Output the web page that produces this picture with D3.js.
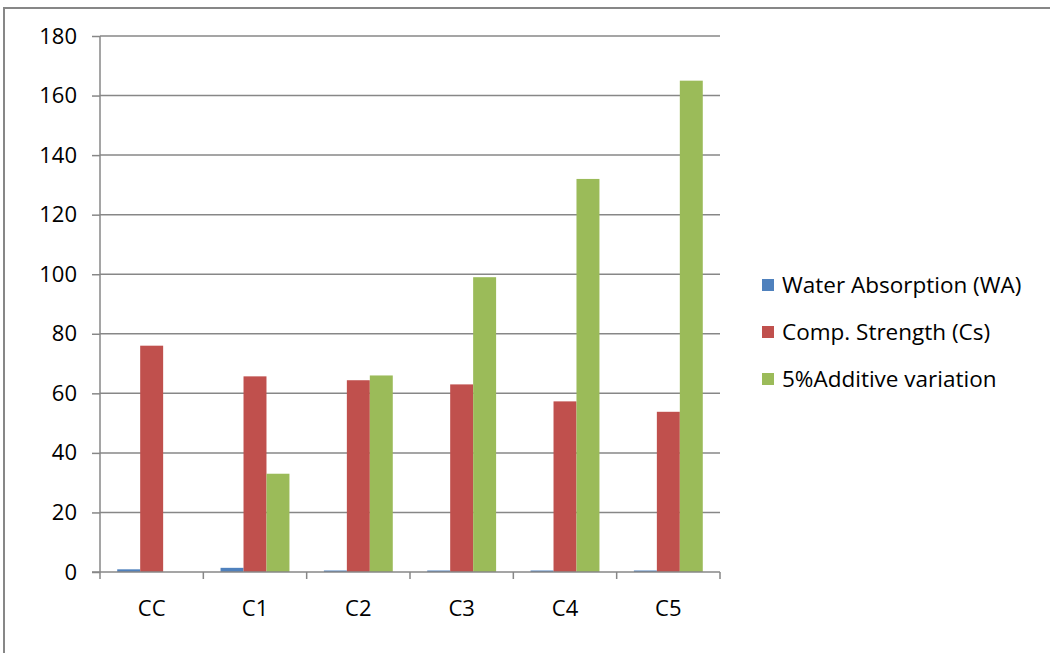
<!DOCTYPE html>
<html>
<head>
<meta charset="utf-8">
<script src="https://cdnjs.cloudflare.com/ajax/libs/d3/7.8.5/d3.min.js"></script>
<style>
  body { margin: 0; background: #fff; }
  svg { display: block; font-family: "Open Sans", sans-serif; }
</style>
</head>
<body>
<svg id="chart" width="1050" height="653"></svg>
<script>
// values
var categories = ["CC", "C1", "C2", "C3", "C4", "C5"];
var seriesNames = ["Water Absorption (WA)", "Comp. Strength (Cs)", "5%Additive variation"];
var waterAbsorption = [0.9, 1.4, 0.5, 0.5, 0.5, 0.5];
var compStrength = [76, 65.7, 64.4, 63, 57.3, 53.8];
var additiveVariation = [0, 33, 66, 99, 132, 165];
var yTicks = [0, 20, 40, 60, 80, 100, 120, 140, 160, 180];
var colors = ["#4F81BD", "#C0504D", "#9BBB59"];

var series = [waterAbsorption, compStrength, additiveVariation];

var svg = d3.select("#chart"),
    plotLeft = 100, plotRight = 720, plotTop = 36, plotBottom = 572,
    fontSize = "22px", legendFont = "22.5px", axisGrey = "#878787";

// outer frame (only top and left edges show in the picture)
svg.append("path")
    .attr("d", "M4,653 V8 H1050")
    .attr("fill", "none")
    .attr("stroke", axisGrey)
    .attr("stroke-width", 2);

var x = d3.scaleBand().domain(categories).range([plotLeft, plotRight]);
var y = d3.scaleLinear().domain([0, 180]).range([plotBottom, plotTop]);

// gridlines
svg.append("g")
    .selectAll("line")
    .data(yTicks.filter(function (d) { return d > 0; }))
    .enter().append("line")
    .attr("x1", plotLeft).attr("x2", plotRight)
    .attr("y1", function (d) { return y(d); })
    .attr("y2", function (d) { return y(d); })
    .attr("stroke", axisGrey)
    .attr("stroke-width", 1.5);

// bars: gap width 150% like the spreadsheet default
var barW = x.bandwidth() / 4.5;
series.forEach(function (vals, si) {
    svg.append("g")
        .selectAll("rect")
        .data(vals)
        .enter().append("rect")
        .attr("x", function (d, i) { return x(categories[i]) + barW * 0.75 + si * barW; })
        .attr("width", barW)
        .attr("y", function (d) { return y(d); })
        .attr("height", function (d) { return plotBottom - y(d); })
        .attr("fill", colors[si]);
});

// y axis
var yAxis = svg.append("g")
    .attr("transform", "translate(" + plotLeft + ",0)")
    .call(d3.axisLeft(y).tickValues(yTicks).tickSize(8).tickPadding(15));
yAxis.select(".domain").attr("stroke", axisGrey).attr("stroke-width", 1.5)
    .attr("d", "M0," + plotTop + "V" + plotBottom);
yAxis.selectAll(".tick line").attr("stroke", axisGrey).attr("stroke-width", 1.5);
yAxis.selectAll(".tick text").attr("font-size", fontSize).attr("fill", "#000")
    .attr("font-family", "'Open Sans', sans-serif");

// x axis with ticks between categories
var xAxis = svg.append("g")
    .attr("transform", "translate(0," + plotBottom + ")")
    .call(d3.axisBottom(x).tickSize(0).tickPadding(28));
xAxis.select(".domain").attr("stroke", axisGrey).attr("stroke-width", 1.5)
    .attr("d", "M" + (plotLeft - 8) + ",0H" + plotRight);
xAxis.selectAll(".tick text").attr("font-size", fontSize).attr("fill", "#000")
    .attr("font-family", "'Open Sans', sans-serif");
xAxis.selectAll("line.sep")
    .data(d3.range(categories.length + 1))
    .enter().append("line")
    .attr("class", "sep")
    .attr("x1", function (d) { return plotLeft + d * x.bandwidth(); })
    .attr("x2", function (d) { return plotLeft + d * x.bandwidth(); })
    .attr("y1", 0).attr("y2", 7)
    .attr("stroke", axisGrey)
    .attr("stroke-width", 1.5);

// legend
var legend = svg.append("g").attr("transform", "translate(762,285)");
seriesNames.forEach(function (name, i) {
    var row = legend.append("g").attr("transform", "translate(0," + (i * 47) + ")");
    row.append("rect").attr("x", 0).attr("y", -6).attr("width", 12).attr("height", 12).attr("fill", colors[i]);
    row.append("text").attr("x", 20).attr("y", 0).attr("dy", "0.35em")
        .attr("font-size", legendFont).attr("fill", "#000").text(name);
});
</script>
</body>
</html>
